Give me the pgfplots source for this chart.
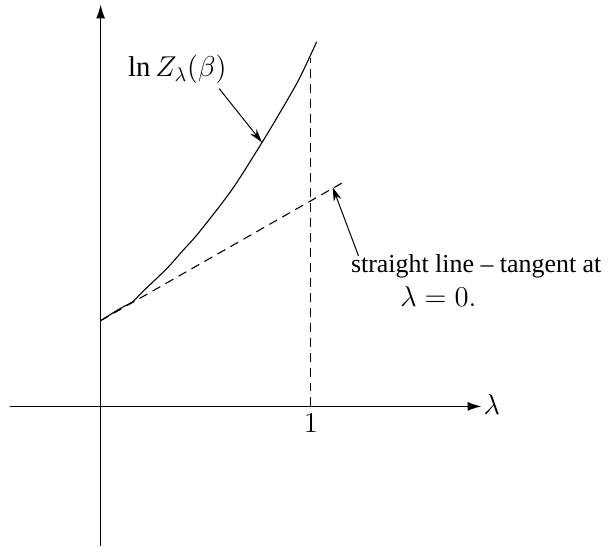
\documentclass[border=0pt]{standalone}
\usepackage{fontspec}
\setmainfont{Liberation Serif}
\usepackage{pgfplots}
\pgfplotsset{compat=1.18}
\usetikzlibrary{arrows.meta}

% ln Z_lambda(beta) as a function of lambda
\pgfplotstableread{
x      y
0.000  0.408
0.090  0.464
0.152  0.498
0.199  0.545
0.313  0.654
0.389  0.739
0.469  0.829
0.626  1.033
0.768  1.256
0.848  1.389
0.943  1.555
1.028  1.735
}\lnZ

% tangent at lambda = 0
\pgfplotstableread{
x      y
0.000  0.408
1.147  1.062
}\tangent

% vertical guide at lambda = 1
\pgfplotstableread{
x      y
1.000  0.000
1.000  1.659
}\guide

\begin{document}
\begin{tikzpicture}
\begin{axis}[
  width=304pt, height=275pt, scale only axis,
  axis lines=none, ticks=none, clip=false,
  xmin=-0.4787, xmax=2.4028,
  ymin=-0.673, ymax=1.9336,
]
  % keep the page the size of the whole plotting area
  \path (rel axis cs:0,0) rectangle (rel axis cs:1,1);

  % coordinate axes
  \draw[line width=0.6pt, -{Latex[length=7pt,width=4.5pt]}]
    (axis cs:-0.431,0) -- (axis cs:1.812,0);
  \draw[line width=0.6pt, -{Latex[length=7pt,width=4.5pt]}]
    (axis cs:0,-0.664) -- (axis cs:0,1.912);

  \addplot[black, line width=0.55pt, smooth, tension=0.5] table[x=x,y=y] {\lnZ};
  \addplot[black, line width=0.55pt, dash pattern=on 4.5pt off 3pt] table[x=x,y=y] {\tangent};
  \addplot[black, line width=0.55pt, dash pattern=on 4.5pt off 3pt] table[x=x,y=y] {\guide};

  % axis labels
  \node[anchor=west, inner sep=0pt, font=\fontsize{14}{16}\selectfont]
    at (axis cs:1.82,0.01) {$\lambda$};
  \node[font=\fontsize{14}{16}\selectfont] at (axis cs:1.0,-0.082) {$1$};

  % annotations
  \node[font=\fontsize{14.4}{17}\selectfont] at (axis cs:0.365,1.602) {$\ln Z_{\lambda}(\beta)$};
  \draw[line width=0.5pt, -{Stealth[length=7pt,width=4pt]}]
    (axis cs:0.564,1.512) -- (axis cs:0.768,1.256);

  \node[font=\fontsize{13}{15}\selectfont] at (axis cs:1.787,0.668) {straight line -- tangent at};
  \node[font=\fontsize{14}{16}\selectfont] at (axis cs:1.607,0.521) {$\lambda=0.$};
  \draw[line width=0.5pt, -{Stealth[length=7pt,width=4pt]}]
    (axis cs:1.227,0.716) -- (axis cs:1.104,1.043);
\end{axis}
\end{tikzpicture}
\end{document}
